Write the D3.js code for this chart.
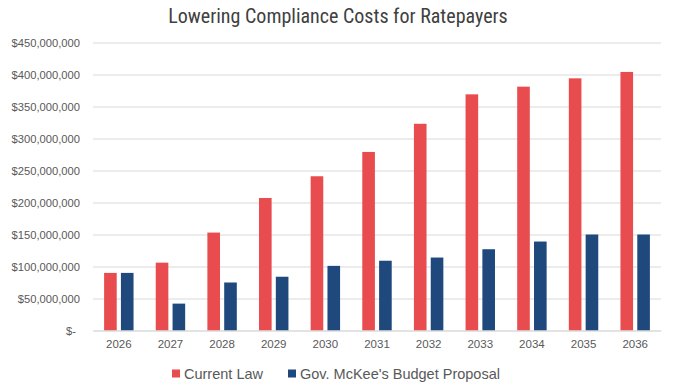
<!DOCTYPE html>
<html><head><meta charset="utf-8">
<script src="https://cdn.jsdelivr.net/npm/d3@7"></script>
<style>
html,body{margin:0;padding:0;background:#fff;}
svg{display:block;font-family:"Liberation Sans",Arial,sans-serif;}
</style></head>
<body>
<svg id="chart" width="676" height="391"></svg>
<script>
const years = ["2026","2027","2028","2029","2030","2031","2032","2033","2034","2035","2036"];
const currentLaw = [90e6,106e6,153e6,207e6,241e6,279e6,323e6,369e6,381e6,394e6,404e6];
const mcKee = [90e6,42e6,75e6,84e6,101e6,109e6,114e6,127e6,139e6,150e6,150e6];
const seriesNames = ["Current Law","Gov. McKee's Budget Proposal"];
const colors = ["#E84C4F","#1F497D"];
const yTicks = [0,50e6,100e6,150e6,200e6,250e6,300e6,350e6,400e6,450e6];

const svg = d3.select("#chart");
const m = {left:93, right:15, top:42.5, bottom:60.5};
const W = 676, H = 391;
const x = d3.scaleBand().domain(years).range([m.left, W - m.right]).paddingInner(0.43).paddingOuter(0.215);
const x1 = d3.scaleBand().domain([0,1]).range([0, x.bandwidth()]).paddingInner(0.25);
const y = d3.scaleLinear().domain([0,450e6]).range([H - m.bottom, m.top]);

// title
svg.append("text").attr("x", 338).attr("y", 23).attr("text-anchor","middle")
  .attr("font-family","'Liberation Sans Narrow','Roboto Condensed',sans-serif")
  .attr("font-size", 20).attr("fill","#404040").text("Lowering Compliance Costs for Ratepayers");

// gridlines + y axis
const fmt = v => v === 0 ? "$-" : "$" + d3.format(",")(v);
const yAxis = d3.axisLeft(y).tickValues(yTicks).tickFormat(fmt).tickSize(-(W - m.left - m.right)).tickPadding(13);
const gy = svg.append("g").attr("transform", `translate(${m.left},0)`).call(yAxis);
gy.select(".domain").remove();
gy.selectAll(".tick line").attr("stroke","#D9D9D9").attr("stroke-width",1.2);
gy.selectAll(".tick text").attr("fill","#595959").attr("font-size",11.2)
  .attr("font-family","'Liberation Sans',Arial,sans-serif")
  .attr("dx", d => d === 0 ? -4 : 0);

// bars
const g = svg.append("g");
[currentLaw, mcKee].forEach((arr, si) => {
  g.selectAll(".s"+si).data(years.map((yr,i)=>({yr, v:arr[i]}))).join("rect")
    .attr("x", d => x(d.yr) + x1(si))
    .attr("width", x1.bandwidth())
    .attr("y", d => y(d.v))
    .attr("height", d => y(0) - y(d.v))
    .attr("fill", colors[si]);
});

// x axis
const xAxis = d3.axisBottom(x).tickSize(0).tickPadding(9);
const gx = svg.append("g").attr("transform", `translate(0,${y(0)})`).call(xAxis);
gx.select(".domain").attr("stroke","#D9D9D9").attr("stroke-width",1.2);
gx.selectAll(".tick text").attr("fill","#595959").attr("font-size",11.5)
  .attr("font-family","'Liberation Sans',Arial,sans-serif");

// legend
const legend = svg.append("g").attr("transform","translate(0,374)");
const lx = [172, 288];
seriesNames.forEach((n,i)=>{
  legend.append("rect").attr("x", lx[i]).attr("y", -4.5).attr("width",8).attr("height",8).attr("fill",colors[i]);
  legend.append("text").attr("x", lx[i]+12).attr("y", 0).attr("dy","0.35em")
    .attr("font-family","'Liberation Sans',Arial,sans-serif")
    .attr("font-size",14.5).attr("fill","#595959").text(n);
});
</script>
</body></html>
